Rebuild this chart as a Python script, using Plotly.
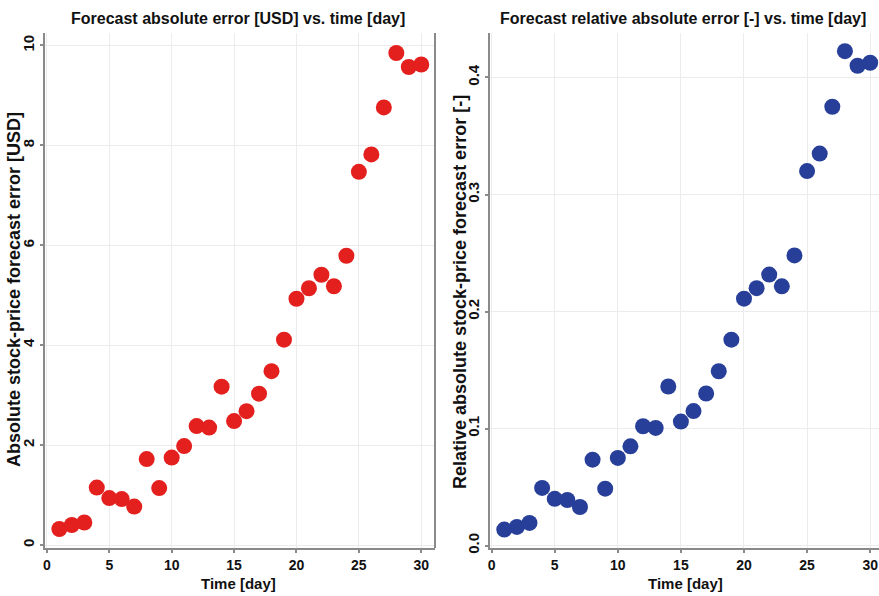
import plotly.graph_objects as go

days = list(range(1, 31))
abs_error_usd = [0.32, 0.40, 0.45, 1.15, 0.94, 0.92, 0.77, 1.72, 1.14, 1.75,
                 1.98, 2.38, 2.35, 3.17, 2.48, 2.68, 3.03, 3.48, 4.11, 4.93,
                 5.14, 5.41, 5.18, 5.79, 7.47, 7.82, 8.76, 9.85, 9.57, 9.62]
rel_error = [0.0137, 0.016, 0.0194, 0.0493, 0.040, 0.039, 0.033, 0.0735, 0.0487, 0.075,
             0.0849, 0.102, 0.1006, 0.136, 0.106, 0.115, 0.130, 0.149, 0.176, 0.211,
             0.220, 0.2316, 0.2216, 0.248, 0.320, 0.335, 0.375, 0.4225, 0.410, 0.4126]
x_ticks = [0, 5, 10, 15, 20, 25, 30]
y1_ticks = [0, 2, 4, 6, 8, 10]
y2_ticks = [0.0, 0.1, 0.2, 0.3, 0.4]

left_title = "Forecast absolute error [USD] vs. time [day]"
right_title = "Forecast relative absolute error [-] vs. time [day]"
x_title = "Time [day]"
y1_title = "Absolute stock-price forecast error [USD]"
y2_title = "Relative absolute stock-price forecast error [-]"

FONT = "Liberation Sans, Arial, sans-serif"
RED = "#e4201f"
BLUE = "#273f98"
AXIS = "#8a8a8a"
GRID = "#ececec"
TXT = "#111"

fig = go.Figure()
fig.add_trace(go.Scatter(x=days, y=abs_error_usd, mode="markers", xaxis="x", yaxis="y",
                         marker=dict(color=RED, size=16, line=dict(width=0)), showlegend=False))
fig.add_trace(go.Scatter(x=days, y=rel_error, mode="markers", xaxis="x2", yaxis="y2",
                         marker=dict(color=BLUE, size=16, line=dict(width=0)), showlegend=False))

W, H = 879, 596
ydom = [(H - 548) / H, (H - 33) / H]

common_x = dict(showline=True, linecolor=AXIS, linewidth=2, ticks="outside", ticklen=3,
                tickcolor=AXIS, tickwidth=1.5, gridcolor=GRID, gridwidth=1, zeroline=False,
                tickvals=x_ticks, ticktext=["<b>%d</b>" % v for v in x_ticks],
                tickfont=dict(family=FONT, size=14, color=TXT), automargin=False)
common_y = dict(showline=True, linecolor=AXIS, linewidth=2, ticks="outside", ticklen=3,
                tickcolor=AXIS, tickwidth=1.5, gridcolor=GRID, gridwidth=1, zeroline=False,
                tickangle=-90, automargin=False,
                tickfont=dict(family=FONT, size=15, color=TXT))


def ann(text, x, y, angle=0, size=16):
    return dict(text="<b>" + text + "</b>", x=x / W, y=(H - y) / H, xref="paper", yref="paper",
                showarrow=False, textangle=angle, font=dict(family=FONT, size=size, color=TXT),
                xanchor="center", yanchor="middle")


fig.update_layout(
    width=W, height=H,
    margin=dict(l=0, r=0, t=0, b=0),
    paper_bgcolor="white", plot_bgcolor="white",
    font=dict(family=FONT, color=TXT),
    xaxis=dict(common_x, domain=[45 / W, 435 / W], range=[-0.15, 31.1], anchor="y"),
    yaxis=dict(common_y, domain=ydom, range=[-0.06, 10.25], anchor="x",
               tickvals=y1_ticks, ticktext=["<b>%d</b>" % v for v in y1_ticks]),
    xaxis2=dict(common_x, domain=[490 / W, 879 / W], range=[-0.13, 30.7], anchor="y2"),
    yaxis2=dict(common_y, domain=ydom, range=[-0.002, 0.438], anchor="x2",
                tickvals=y2_ticks, ticktext=["<b>%.1f</b>" % v for v in y2_ticks]),
    annotations=[
        ann(left_title, 238, 18, size=16),
        ann(right_title, 683, 18, size=16),
        ann(x_title, 238, 583, size=15),
        ann(x_title, 685, 583, size=15),
        ann(y1_title, 14, 290, angle=-90, size=18),
        ann(y2_title, 460, 292, angle=-90, size=18),
    ],
    shapes=[
        dict(type="line", xref="paper", yref="paper", x0=435 / W, x1=435 / W, y0=ydom[0], y1=ydom[1],
             line=dict(color=AXIS, width=2)),
    ],
)

fig.write_html("out.html", config={"displayModeBar": False},
               post_script="document.body.style.margin='0px';")
